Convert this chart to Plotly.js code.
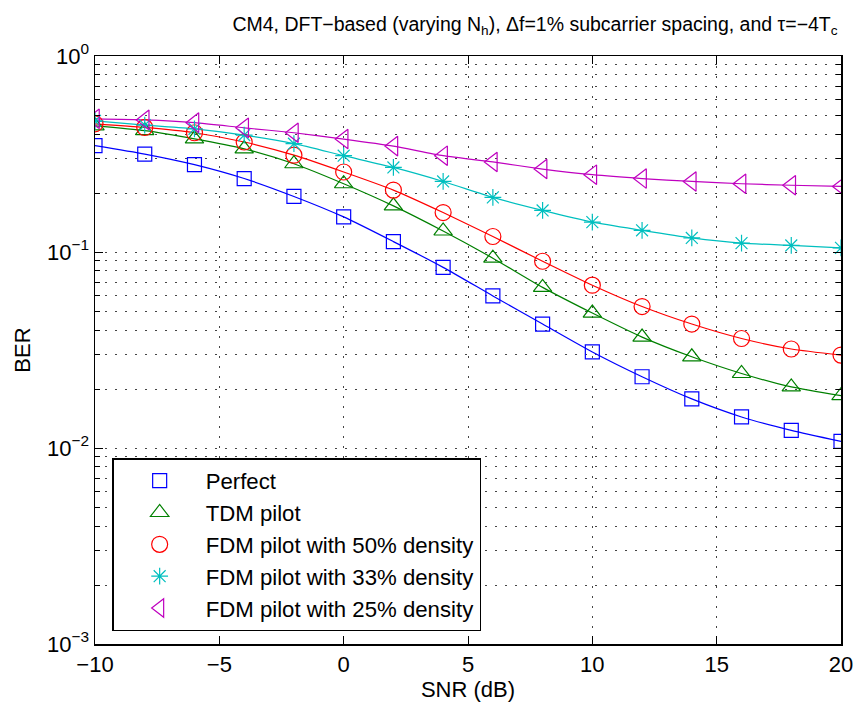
<!DOCTYPE html>
<html>
<head>
<meta charset="utf-8">
<script src="https://cdn.plot.ly/plotly-3.0.1.min.js"></script>
<style>html,body{margin:0;padding:0;background:#fff;}#chart{width:856px;height:706px;}</style>
</head>
<body>
<div id="chart"></div>
<script>
const snr = [-10,-8,-6,-4,-2,0,2,4,6,8,10,12,14,16,18,20];
const perfect = [0.349,0.316,0.279,0.237,0.192,0.151,0.113,0.0835,0.0597,0.0429,0.0309,0.0231,0.0178,0.0144,0.0123,0.0108];
const tdm = [0.44,0.416,0.378,0.336,0.282,0.223,0.172,0.128,0.093,0.066,0.0488,0.0368,0.0292,0.0240,0.0205,0.0185];
const fdm50 = [0.451,0.432,0.406,0.364,0.312,0.256,0.207,0.159,0.120,0.0897,0.0677,0.0527,0.0429,0.0362,0.0320,0.0298];
const fdm33 = [0.467,0.444,0.425,0.395,0.357,0.310,0.270,0.229,0.190,0.163,0.142,0.129,0.118,0.111,0.108,0.105];
const fdm25 = [0.478,0.472,0.457,0.430,0.406,0.377,0.347,0.310,0.288,0.265,0.248,0.237,0.229,0.223,0.219,0.216];

const seriesNames = ['Perfect','TDM pilot','FDM pilot with 50% density','FDM pilot with 33% density','FDM pilot with 25% density'];
const seriesData = [perfect, tdm, fdm50, fdm33, fdm25];
const colors = ['#0000ff','#008000','#ff0000','#00bfbf','#bf00bf'];
const symbols = ['square-open','triangle-up-open','circle-open','asterisk-open','triangle-left-open'];
const sizes = [14,16,16,14,17];

const yTickVals = [1e-3,1e-2,1e-1,1];
const yTickText = ['10<sup>−3</sup>','10<sup>−2</sup>','10<sup>−1</sup>','10<sup>0</sup>'];
const xTickVals = [-10,-5,0,5,10,15,20];
const xTickText = ['−10','−5','0','5','10','15','20'];

const minorY = [];
[1e-3,1e-2,1e-1].forEach(d => { for (let k=2;k<=9;k++) minorY.push(+(d*k).toPrecision(3)); });

const traces = [];
seriesData.forEach((d,i)=>{
  traces.push({x:snr,y:d,mode:'lines',type:'scatter',showlegend:false,hoverinfo:'skip',
    line:{color:colors[i],width:1.2,shape:'spline',smoothing:0.6}});
});
seriesData.forEach((d,i)=>{
  traces.push({x:snr,y:d,mode:'markers',type:'scatter',name:seriesNames[i],
    marker:{symbol:symbols[i],size:sizes[i],color:colors[i],line:{color:colors[i],width:1.2}}});
});

const fontFam = 'Liberation Sans, Arial, sans-serif';
const gridDash = '2px,8px';
const layout = {
  width:856,height:706,
  margin:{l:95,r:15,t:56,b:62},
  paper_bgcolor:'#fff',plot_bgcolor:'#fff',
  font:{family:fontFam,size:22,color:'#000'},
  title:{text:'CM4, DFT−based (varying N<sub>h</sub>), Δf=1% subcarrier spacing, and τ=−4T<sub>c</sub>',
    font:{family:fontFam,size:19.5,color:'#000'},x:0.625,xanchor:'center',y:0.975,yanchor:'top'},
  xaxis:{range:[-10,20],tickmode:'array',tickvals:xTickVals,ticktext:xTickText,
    ticks:'inside',ticklen:8,tickcolor:'#000',mirror:'ticks',showline:true,linecolor:'#000',linewidth:1.5,
    showgrid:true,gridcolor:'#444',gridwidth:1,griddash:gridDash,zeroline:false,
    tickfont:{size:22},
    title:{text:'SNR (dB)',font:{size:22},standoff:5}},
  yaxis:{type:'log',range:[-3,0],tickmode:'array',tickvals:yTickVals,ticktext:yTickText,
    ticks:'inside',ticklen:8,tickcolor:'#000',mirror:'ticks',showline:true,linecolor:'#000',linewidth:1.5,
    showgrid:true,gridcolor:'#444',gridwidth:1,griddash:gridDash,zeroline:false,
    tickfont:{size:22},
    minor:{tickmode:'array',tickvals:minorY,ticks:'inside',ticklen:5,tickcolor:'#000',
      showgrid:true,gridcolor:'#444',gridwidth:1,griddash:gridDash},
    title:{text:'BER',font:{size:22},standoff:10}},
  legend:{x:0.023,y:0.316,xanchor:'left',yanchor:'top',bgcolor:'#fff',bordercolor:'#000',borderwidth:1.5,
    font:{size:22.2},itemwidth:82,tracegroupgap:0},
  showlegend:true
};
Plotly.newPlot('chart',traces,layout,{staticPlot:true});
</script>
</body>
</html>
